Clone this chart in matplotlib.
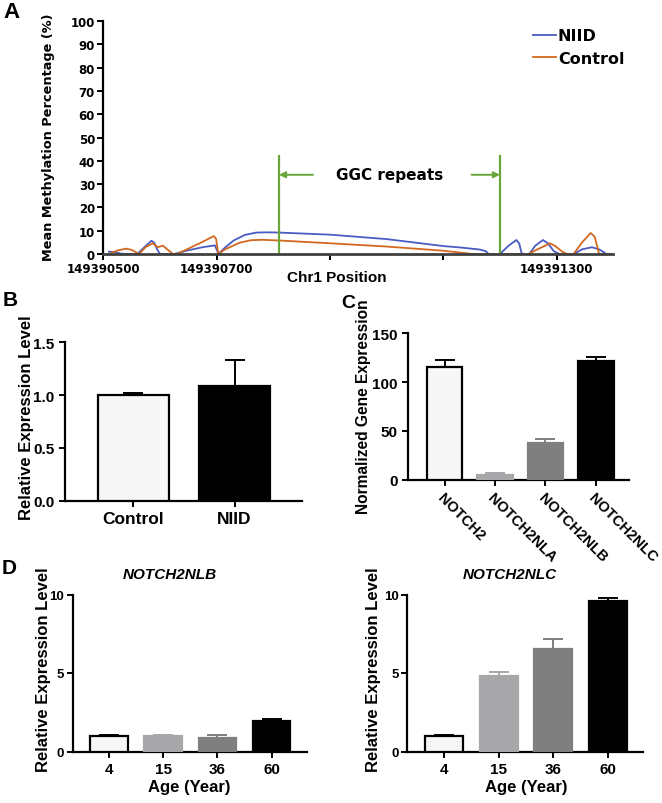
import matplotlib

matplotlib.use("Agg")
import matplotlib.pyplot as plt
import numpy as np

# ---- panel A: methylation along chr1 ----
NIID_POS = [149390510, 149390520, 149390530, 149390540, 149390560, 149390575, 149390585, 149390590,
            149390595, 149390600, 149390625, 149390650, 149390675, 149390697, 149390700, 149390703,
            149390715, 149390730, 149390750, 149390770, 149390790, 149390810, 149390900, 149391000,
            149391100, 149391130, 149391165, 149391175, 149391180, 149391200, 149391215, 149391229,
            149391234, 149391238, 149391241, 149391252, 149391262, 149391276, 149391285, 149391295,
            149391305, 149391330, 149391345, 149391362, 149391375, 149391388, 149391395]
NIID_PCT = [1.0, 0.8, 0.2, 0.0, 0.0, 3.5, 5.7, 4.8,
            2.0, 0.0, 0.0, 1.6, 2.9, 3.7, 2.0, 0.0,
            2.8, 5.8, 8.2, 9.2, 9.3, 9.2, 8.3, 6.4,
            3.4, 2.8, 1.9, 1.2, 0.0, 0.0, 3.5, 6.0,
            4.5, 0.5, 0.0, 0.0, 3.5, 6.0, 4.5, 1.2,
            0.0, 0.0, 2.0, 2.9, 2.0, 0.0, 0.0]
CTRL_POS = [149390510, 149390525, 149390540, 149390550, 149390563, 149390575, 149390587, 149390596,
            149390605, 149390612, 149390623, 149390630, 149390650, 149390675, 149390695, 149390699,
            149390703, 149390715, 149390740, 149390760, 149390780, 149390810, 149390900, 149391000,
            149391100, 149391130, 149391152, 149391250, 149391267, 149391280, 149391288, 149391297,
            149391310, 149391318, 149391330, 149391345, 149391360, 149391367, 149391375, 149391392]
CTRL_PCT = [0.0, 1.5, 2.3, 1.8, 0.0, 3.0, 4.6, 2.9,
            3.6, 2.2, 0.0, 0.0, 2.3, 5.2, 7.7, 6.5,
            0.0, 2.0, 4.8, 5.9, 6.1, 5.8, 4.6, 3.2,
            1.4, 0.6, 0.0, 0.0, 2.1, 3.6, 4.6, 3.5,
            1.0, 0.0, 0.0, 5.0, 9.0, 7.5, 0.0, 0.0]
A_XTICKS = [149390500, 149390700, 149390900, 149391100, 149391300]
A_XTICKLABELS = ["149390500", "149390700", "", "", "149391300"]
GGC_BOUNDS = [149390810, 149391200]
GGC_TOP = 42

# ---- panel B ----
B_GROUPS = ["Control", "NIID"]
B_MEAN = [1.0, 1.09]
B_ERR = [0.02, 0.245]

# ---- panel C ----
C_GENES = ["NOTCH2", "NOTCH2NLA", "NOTCH2NLB", "NOTCH2NLC"]
C_MEAN = [115, 4.8, 37.3, 121.3]
C_ERR = [8, 2.4, 4.7, 4.4]

# ---- panel D ----
D_AGES = ["4", "15", "36", "60"]
D_NLB_MEAN = [1.0, 1.0, 0.87, 1.95]
D_NLB_ERR = [0.03, 0.05, 0.15, 0.14]
D_NLC_MEAN = [1.0, 4.82, 6.56, 9.56]
D_NLC_ERR = [0.03, 0.27, 0.61, 0.22]

W, H = 662, 804
ARIAL = ["Liberation Sans", "DejaVu Sans"]
NARROW = ["Liberation Sans Narrow", "Liberation Sans", "DejaVu Sans"]
FILL4 = ["#f7f7f7", "#a7a7a9", "#7f7f7f", "#000000"]
EDGE4 = ["#000000", "#a7a7a9", "#7f7f7f", "#000000"]


def box(l, t, r, b):
    return [l / W, 1 - b / H, (r - l) / W, (b - t) / H]


def label(x, y, s, size, rot=0, **kw):
    # text placed by its centre in reference pixel coordinates
    fig.text(x / W, 1 - y / H, s, ha="center", va="center", rotation=rot, fontsize=size,
             fontweight="bold", family=kw.pop("family", ARIAL), **kw)


def style_ax(ax, size):
    for s in ("top", "right"):
        ax.spines[s].set_visible(False)
    for s in ("left", "bottom"):
        ax.spines[s].set_linewidth(1.6)
    ax.tick_params(width=1.4, length=4, labelsize=size)
    for lab in ax.get_xticklabels() + ax.get_yticklabels():
        lab.set_family(ARIAL)
        lab.set_fontweight("bold")


def bars(ax, vals, errs, fills, edges):
    x = np.arange(len(vals))
    ax.bar(x, vals, width=0.7, color=fills, edgecolor=edges, linewidth=1.6, zorder=3)
    for i in range(len(vals)):
        ax.errorbar(x[i], vals[i], yerr=[[0], [errs[i]]], fmt="none", ecolor=edges[i],
                    elinewidth=1.4, capsize=7, capthick=1.4, zorder=2)
    return x


fig = plt.figure(figsize=(W / 100, H / 100), dpi=100)

# ---------------- A ----------------
ax = fig.add_axes(box(103.3, 22, 613.3, 255))
ax.plot(NIID_POS, NIID_PCT, color="#4a5bc4", lw=1.3, label="NIID")
ax.plot(CTRL_POS, CTRL_PCT, color="#d2691f", lw=1.3, label="Control")
for g in GGC_BOUNDS:
    ax.plot([g, g], [0, GGC_TOP], color="#6aa73a", lw=1.6)
ax.annotate("", xy=(GGC_BOUNDS[0], 34), xytext=(GGC_BOUNDS[0] + 60, 34),
            arrowprops=dict(arrowstyle="-|>", color="#6aa73a", lw=1.4, mutation_scale=9, shrinkA=0, shrinkB=0))
ax.annotate("", xy=(GGC_BOUNDS[1], 34), xytext=(GGC_BOUNDS[1] - 50, 34),
            arrowprops=dict(arrowstyle="-|>", color="#6aa73a", lw=1.4, mutation_scale=9, shrinkA=0, shrinkB=0))
ax.text(149391006, 34, "GGC repeats", ha="center", va="center", fontsize=11, fontweight="bold",
        family="DejaVu Sans")
ax.set_xlim(149390500, 149391400)
ax.set_ylim(0, 100)
ax.set_yticks(np.arange(0, 101, 10))
ax.set_xticks(A_XTICKS)
ax.set_xticklabels(A_XTICKLABELS)
for s in ("top", "right"):
    ax.spines[s].set_visible(False)
ax.spines["left"].set_linewidth(1.6)
ax.spines["bottom"].set_linewidth(2.0)
ax.spines["bottom"].set_color("#404040")
ax.tick_params(width=1.4, length=4, labelsize=8.5, pad=2)
for lab in ax.get_xticklabels() + ax.get_yticklabels():
    lab.set_fontweight("bold")
label(49, 137, "Mean Methylation Percentage (%)", 9.3, rot=90, family="DejaVu Sans")
label(336.7, 278.5, "Chr1 Position", 11)
ax.legend(loc="upper left", bbox_to_anchor=(0.843, 0.968), frameon=False, handlelength=1.4,
          handletextpad=0.15, labelspacing=0.45, borderpad=0, borderaxespad=0,
          prop=dict(size=11.5, weight="bold"))

# ---------------- B ----------------
ax = fig.add_axes(box(65, 343.3, 301.7, 501.7))
x = bars(ax, B_MEAN, B_ERR, [FILL4[0], FILL4[3]], ["#000000", "#000000"])
ax.set_xlim(-0.674, 1.662)
ax.set_ylim(0, 1.5)
ax.set_yticks([0, 0.5, 1.0, 1.5])
ax.set_yticklabels(["0.0", "0.5", "1.0", "1.5"])
ax.set_xticks(x)
ax.set_xticklabels(B_GROUPS)
style_ax(ax, 11)
for lab in ax.get_xticklabels():
    lab.set_fontsize(12.5)
label(26.7, 417.5, "Relative Expression Level", 12, rot=90)

# ---------------- C ----------------
ax = fig.add_axes(box(408.3, 334.3, 629.3, 480.7))
x = bars(ax, C_MEAN, C_ERR, FILL4, EDGE4)
ax.set_xlim(-0.717, 3.66)
ax.set_ylim(0, 150)
ax.set_yticks([0, 50, 100, 150])
ax.set_xticks(x)
ax.set_xticklabels(C_GENES, rotation=-45, ha="left", va="top", rotation_mode="anchor")
style_ax(ax, 11)
for lab in ax.get_xticklabels():
    lab.set_fontsize(10.5)
label(363.3, 406.7, "Normalized Gene Expression", 11.2, rot=90)

# ---------------- D ----------------
for (l, r, title, mean, err, tx, ylx, xlx) in [
        (72.7, 306.7, "NOTCH2NLB", D_NLB_MEAN, D_NLB_ERR, 170, 43.5, 189),
        (407.3, 643.3, "NOTCH2NLC", D_NLC_MEAN, D_NLC_ERR, 510, 373.3, 526.7)]:
    ax = fig.add_axes(box(l, 595.5, r, 752.5))
    x = bars(ax, mean, err, FILL4, EDGE4)
    ax.set_xlim(-0.676, 3.65)
    ax.set_ylim(0, 10)
    ax.set_yticks([0, 5, 10])
    ax.set_xticks(x)
    ax.set_xticklabels(D_AGES)
    style_ax(ax, 11)
    ax.tick_params(axis="y", labelsize=9.5, pad=2)
    label(ylx, 670, "Relative Expression Level", 12, rot=90)
    label(xlx, 788, "Age (Year)", 12)
    label(tx, 575, title, 11, style="italic")

# panel letters
fig.text(3 / W, 1 - 13 / H, "A", ha="left", va="center", fontsize=16, fontweight="bold", family=NARROW)
fig.text(3 / W, 1 - 300.5 / H, "B", ha="left", va="center", fontsize=15, fontweight="bold", family=ARIAL)
fig.text(341 / W, 1 - 303.5 / H, "C", ha="left", va="center", fontsize=14, fontweight="bold", family=ARIAL)
fig.text(2 / W, 1 - 569 / H, "D", ha="left", va="center", fontsize=15, fontweight="bold", family=ARIAL)

fig.savefig("out.png", dpi=100)
